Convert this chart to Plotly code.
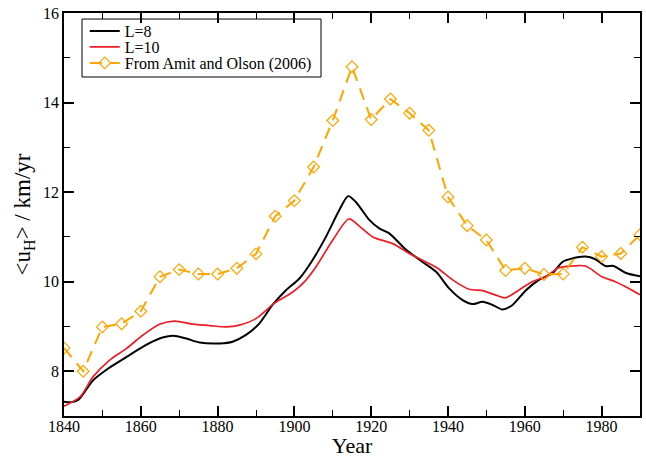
import plotly.graph_objects as go

# Amit and Olson (2006)
ao_years = [1840, 1845, 1850, 1855, 1860, 1865, 1870, 1875, 1880, 1885, 1890, 1895,
            1900, 1905, 1910, 1915, 1920, 1925, 1930, 1935, 1940, 1945, 1950, 1955,
            1960, 1965, 1970, 1975, 1980, 1985, 1990]
ao_vals = [8.52, 8.00, 8.99, 9.06, 9.34, 10.11, 10.27, 10.17, 10.17, 10.30, 10.62, 11.46,
           11.81, 12.56, 13.60, 14.80, 13.62, 14.08, 13.76, 13.38, 11.89, 11.25, 10.93, 10.25,
           10.30, 10.16, 10.17, 10.77, 10.56, 10.63, 11.05]

# L=8
l8_years = [1840, 1842, 1843.7, 1847.6, 1851.5, 1856.3, 1860.6, 1864.9, 1868.4, 1871.8,
            1875.3, 1880.5, 1883.9, 1887.4, 1890.9, 1894.3, 1897.8, 1901.3, 1904.7, 1908.2,
            1911.7, 1914, 1916, 1919.5, 1922.1, 1924.7, 1929.1, 1933.4, 1936.9, 1940.3,
            1943.8, 1946.4, 1949, 1951.6, 1954.2, 1956.8, 1960.3, 1963.7, 1967.2, 1969.8,
            1972.4, 1975.8, 1978.4, 1981, 1983.1, 1986.2, 1990]
l8_vals = [7.32, 7.31, 7.36, 7.80, 8.06, 8.32, 8.55, 8.73, 8.79, 8.73,
           8.64, 8.62, 8.66, 8.81, 9.07, 9.48, 9.81, 10.07, 10.48, 11.00,
           11.60, 11.91, 11.78, 11.38, 11.19, 11.08, 10.71, 10.44, 10.22, 9.85,
           9.59, 9.50, 9.55, 9.48, 9.38, 9.48, 9.81, 10.04, 10.19, 10.44,
           10.52, 10.56, 10.50, 10.35, 10.35, 10.20, 10.12]

# L=10
l10_years = [1840, 1844.2, 1847.6, 1851.9, 1856.3, 1860.6, 1864.9, 1868.8, 1873.6, 1877.9,
             1882.3, 1885.7, 1890.1, 1894.8, 1899.6, 1902.2, 1905.6, 1910, 1914.2, 1916.9,
             1920.4, 1925.6, 1929.9, 1934.3, 1937.3, 1941.2, 1945.5, 1949, 1952.4, 1955,
             1958.4, 1961.9, 1965.4, 1968.8, 1972.4, 1975.8, 1980.1, 1983.6, 1987.1, 1990]
l10_vals = [7.22, 7.43, 7.88, 8.25, 8.51, 8.81, 9.05, 9.12, 9.05, 9.02,
            8.99, 9.03, 9.18, 9.52, 9.77, 9.96, 10.33, 10.93, 11.40, 11.24,
            11.00, 10.85, 10.63, 10.44, 10.30, 10.04, 9.83, 9.80, 9.70, 9.64,
            9.81, 10.00, 10.11, 10.31, 10.35, 10.35, 10.11, 10.00, 9.85, 9.71]

x_ticks = [1840, 1860, 1880, 1900, 1920, 1940, 1960, 1980]
y_ticks = [8, 10, 12, 14, 16]

serif = "Liberation Serif"

fig = go.Figure()
fig.add_trace(go.Scatter(x=l8_years, y=l8_vals, mode="lines", name="L=8", legend="legend",
                         showlegend=True,
                         line=dict(color="black", width=2, shape="spline", smoothing=0.8)))
fig.add_trace(go.Scatter(x=l10_years, y=l10_vals, mode="lines", name="L=10", legend="legend2",
                         showlegend=True,
                         line=dict(color="#ee1c25", width=1.7, shape="spline", smoothing=0.8)))
fig.add_trace(go.Scatter(x=ao_years, y=ao_vals, mode="lines+markers", name="From Amit and Olson (2006)",
                         legend="legend3", showlegend=True,
                         line=dict(color="#ffa500", width=2, dash="12px,8px"),
                         marker=dict(symbol="diamond-open", size=9, color="#ffa500",
                                     line=dict(width=1.2, color="#ffa500"))))

axis_common = dict(showgrid=False, zeroline=False, showline=True, linecolor="black",
                   linewidth=1.5, mirror="ticks", ticks="inside", ticklen=10, tickwidth=1.5,
                   tickcolor="black", tickfont=dict(family=serif, size=16, color="black"))

fig.update_xaxes(range=[1840, 1990], tickvals=x_ticks, ticklabelstandoff=-5,
                 minor=dict(dtick=10, tick0=1840, ticks="inside", ticklen=6, tickwidth=1.2, tickcolor="black"),
                 title=dict(text="Year", font=dict(family=serif, size=22, color="black"), standoff=3),
                 **axis_common)
fig.update_yaxes(range=[7, 16], tickvals=y_ticks,
                 minor=dict(dtick=1, tick0=7, ticks="inside", ticklen=6, tickwidth=1.2, tickcolor="black"),
                 title=dict(text="&lt;u<sub>H</sub>&gt; / km/yr", font=dict(family=serif, size=23, color="black"), standoff=6),
                 **axis_common)

leg_common = dict(xanchor="left", yanchor="middle", bgcolor="rgba(0,0,0,0)", borderwidth=0,
                  font=dict(family=serif, size=16, color="black"), itemwidth=30, visible=True)

fig.update_layout(
    width=646, height=458,
    showlegend=True,
    margin=dict(l=64, r=6, t=13, b=42, autoexpand=False),
    paper_bgcolor="white", plot_bgcolor="white",
    font=dict(family=serif, color="black"),
    legend=dict(x=0.036, y=0.9553, **leg_common),
    legend2=dict(x=0.036, y=0.9156, **leg_common),
    legend3=dict(x=0.036, y=0.8759, **leg_common),
    shapes=[dict(type="rect", xref="paper", yref="paper", x0=0.03125, x1=0.4462,
                 y0=0.8412, y1=0.985, line=dict(color="black", width=1),
                 fillcolor="white", layer="below")],
)

fig.write_html("out.html")
